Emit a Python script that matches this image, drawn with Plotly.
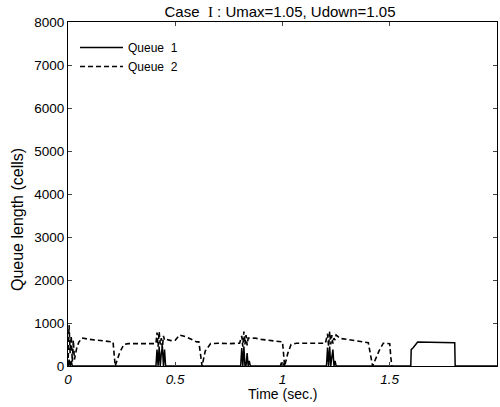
import plotly.graph_objects as go

# Queue 1 (solid)
t1 = [0.0, 0.005, 0.01, 0.015, 0.02, 0.4, 0.41, 0.415, 0.42, 0.425, 0.43, 0.435, 0.44, 0.445, 0.45, 0.455, 0.46,
      0.8, 0.805, 0.81, 0.815, 0.82, 0.825, 0.83, 0.835, 0.84, 0.845, 0.85,
      0.99, 0.995, 1.0, 1.005, 1.01,
      1.2, 1.205, 1.21, 1.215, 1.22, 1.225, 1.23, 1.235, 1.24, 1.245, 1.25,
      1.598, 1.6, 1.61, 1.63, 1.7, 1.803, 1.805, 2.0]
q1 = [0, 150, 0, 120, 0, 0, 0, 380, 0, 450, 0, 300, 450, 0, 380, 0, 0,
      0, 0, 420, 0, 450, 0, 0, 300, 0, 120, 0,
      0, 80, 0, 60, 0,
      0, 0, 430, 0, 450, 0, 200, 380, 0, 120, 0,
      0, 380, 430, 560, 550, 540, 0, 0]

# Queue 2 (dashed)
t2 = [0.0, 0.005, 0.01, 0.015, 0.02, 0.025, 0.03, 0.04, 0.05, 0.065, 0.1, 0.15, 0.2, 0.21, 0.22, 0.24, 0.26,
      0.28, 0.35, 0.4, 0.41, 0.415, 0.42, 0.425, 0.43, 0.435, 0.44, 0.445, 0.45, 0.46, 0.48, 0.5, 0.52, 0.55,
      0.6, 0.61, 0.625, 0.64, 0.665, 0.7, 0.75, 0.8, 0.81, 0.815, 0.82, 0.825, 0.83, 0.835, 0.84, 0.85, 0.87,
      0.9, 0.95, 1.0, 1.01, 1.025, 1.04, 1.065, 1.1, 1.15, 1.2, 1.21, 1.215, 1.22, 1.225, 1.23, 1.235, 1.24,
      1.245, 1.25, 1.27, 1.3, 1.35, 1.4, 1.42, 1.45, 1.47, 1.5, 1.505, 1.51]
q2 = [0, 950, 300, 700, 100, 600, 150, 400, 550, 650, 620, 600, 570, 560, 0, 300, 500,
      520, 520, 510, 520, 780, 450, 800, 500, 650, 420, 700, 600, 620, 590, 600, 720, 680,
      560, 560, 0, 350, 520, 530, 520, 530, 700, 450, 800, 500, 720, 480, 650, 640, 650,
      620, 590, 560, 0, 300, 500, 530, 530, 530, 530, 750, 450, 800, 500, 720, 520, 650,
      600, 720, 640, 620, 580, 540, 0, 350, 530, 520, 200, 0]

x_ticks = [0, 0.5, 1, 1.5, 2]
x_tick_text = ["<i>0</i>", "<i>0.5</i>", "<i>1</i>", "<i>1.5</i>", "<i>2</i>"]
y_ticks = [0, 1000, 2000, 3000, 4000, 5000, 6000, 7000, 8000]

fig = go.Figure()
fig.add_trace(go.Scatter(x=t1, y=q1, mode="lines", name="Queue  1",
                         line=dict(color="black", width=1.5)))
fig.add_trace(go.Scatter(x=t2, y=q2, mode="lines", name="Queue  2",
                         line=dict(color="black", width=1.6, dash="5px,3px")))

font = dict(family="Liberation Sans, Arial, sans-serif", size=13.5, color="black")
fig.update_layout(
    width=500, height=407,
    margin=dict(l=68, r=3, t=22, b=41),
    paper_bgcolor="white", plot_bgcolor="white",
    font=font,
    title=dict(text="Case  <span style='font-family:Liberation Serif'>I</span> : Umax=1.05, Udown=1.05",
               x=0.56, xanchor="center", y=0.9705, yanchor="middle", font=dict(size=15)),
    showlegend=True,
    legend=dict(x=0.0163, y=0.968, xanchor="left", yanchor="top", bgcolor="rgba(0,0,0,0)",
                font=dict(size=12), tracegroupgap=0, itemwidth=43),
    annotations=[
        dict(text="Queue length (cells)", textangle=-90, xref="paper", yref="paper",
             x=-0.119, y=0.427, xanchor="center", yanchor="middle", showarrow=False,
             font=dict(size=16)),
        dict(text="Time (sec.)", xref="paper", yref="paper",
             x=0.499, y=-0.081, xanchor="center", yanchor="middle", showarrow=False,
             font=dict(size=14)),
    ],
)
fig.update_xaxes(range=[0, 2], tickvals=x_ticks, ticktext=x_tick_text, ticks="inside", ticklen=4,
                 showline=True, linecolor="black", linewidth=1, mirror="ticks", showgrid=False,
                 zeroline=False, automargin=False, ticklabelstandoff=1, tickfont=font)
fig.update_yaxes(range=[0, 8000], tickvals=y_ticks, ticks="inside", ticklen=4,
                 showline=True, linecolor="black", linewidth=1, mirror="ticks", showgrid=False,
                 zeroline=False, automargin=False, tickfont=font)

fig.write_html("out.html", config={"displayModeBar": False},
               post_script="document.body.style.margin='0';")
